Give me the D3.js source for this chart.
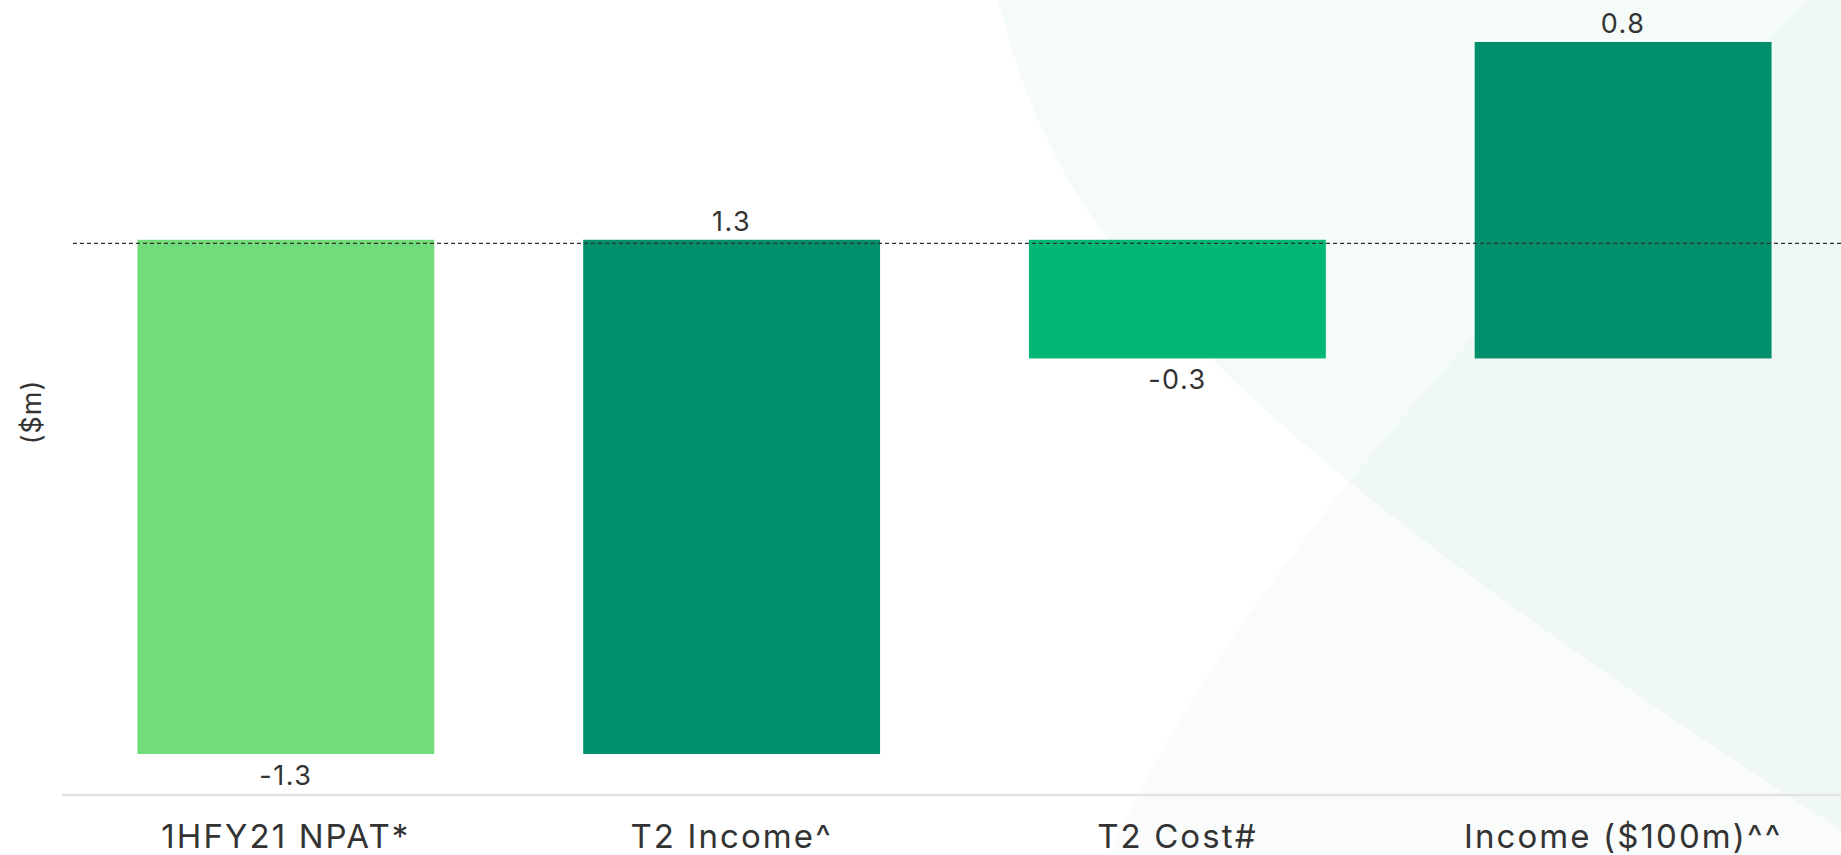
<!DOCTYPE html>
<html>
<head>
<meta charset="utf-8">
<script src="https://cdn.jsdelivr.net/npm/d3@7"></script>
<style>
  html, body { margin: 0; padding: 0; background: #fff; }
  svg { display: block; font-family: Inter, "Noto Sans", sans-serif; }
</style>
</head>
<body>
<svg id="chart" width="1841" height="855"></svg>
<script>
// waterfall steps ($m)
var categories = ["1HFY21 NPAT*", "T2 Income^", "T2 Cost#", "Income ($100m)^^"];
var deltas = [-1.3, 1.3, -0.3, 0.8];
var valueLabels = ["-1.3", "1.3", "-0.3", "0.8"];
var barColors = ["#72dc7b", "#008f6a", "#00b874", "#008f6a"];
var axisTitle = "($m)";

var W = 1841, H = 855;
var svg = d3.select("#chart");

// faint background shapes
var bg = svg.append("g");
bg.append("path")
  .attr("d", "M998,0 C1055,225 1170,395 1841,830 L1841,0 Z")
  .attr("fill", "rgba(0,143,106,0.04)");
bg.append("path")
  .attr("d", "M1110,855 C1200,640 1450,330 1808,0 L1841,0 L1841,855 Z")
  .attr("fill", "rgba(0,143,106,0.025)");

// running totals
var rows = [], run = 0;
deltas.forEach(function(d, i) {
  var start = run;
  run = run + d;
  rows.push({cat: categories[i], start: start, end: run, delta: d, label: valueLabels[i], color: barColors[i]});
});

var lo = d3.min(rows, function(d) { return Math.min(d.start, d.end); });
var hi = d3.max(rows, function(d) { return Math.max(d.start, d.end); });

var x = d3.scaleBand()
  .domain(categories)
  .range([63, 1846])
  .paddingInner(0.334)
  .paddingOuter(0.167);

var y = d3.scaleLinear()
  .domain([lo, hi])
  .range([754, 42]);

// bars
svg.append("g").selectAll("rect")
  .data(rows)
  .enter().append("rect")
  .attr("x", function(d) { return x(d.cat); })
  .attr("width", x.bandwidth())
  .attr("y", function(d) { return y(Math.max(d.start, d.end)); })
  .attr("height", function(d) { return Math.abs(y(d.start) - y(d.end)); })
  .attr("fill", function(d) { return d.color; });

// zero reference line
svg.append("line")
  .attr("x1", 73).attr("x2", W)
  .attr("y1", y(0) + 3.5).attr("y2", y(0) + 3.5)
  .attr("stroke", "#333")
  .attr("stroke-width", 1.2)
  .attr("stroke-dasharray", "4,3");

// value labels
svg.append("g").selectAll("text")
  .data(rows)
  .enter().append("text")
  .attr("x", function(d) { return x(d.cat) + x.bandwidth() / 2; })
  .attr("y", function(d) {
    return d.delta < 0 ? y(d.end) + 31 : y(d.end) - 9;
  })
  .attr("text-anchor", "middle")
  .attr("font-size", 27)
  .attr("letter-spacing", 1.5)
  .attr("fill", "#333")
  .text(function(d) { return d.label; });

// x axis
var xAxis = svg.append("g")
  .attr("transform", "translate(0,795)")
  .call(d3.axisBottom(x).tickSize(0).tickPadding(53));
xAxis.select(".domain").remove();
xAxis.append("line")
  .attr("x1", 62).attr("x2", W)
  .attr("stroke", "#e2e2e2")
  .attr("stroke-width", 2.5);
xAxis.selectAll(".tick text")
  .attr("font-family", "Inter, 'Noto Sans', sans-serif")
  .attr("font-size", 33)
  .attr("letter-spacing", 2.1)
  .attr("fill", "#333")
  .attr("dy", 0);

// y axis title
svg.append("text")
  .attr("transform", "translate(41,412) rotate(-90)")
  .attr("text-anchor", "middle")
  .attr("font-size", 27)
  .attr("letter-spacing", 1)
  .attr("fill", "#333")
  .text(axisTitle);
</script>
</body>
</html>
